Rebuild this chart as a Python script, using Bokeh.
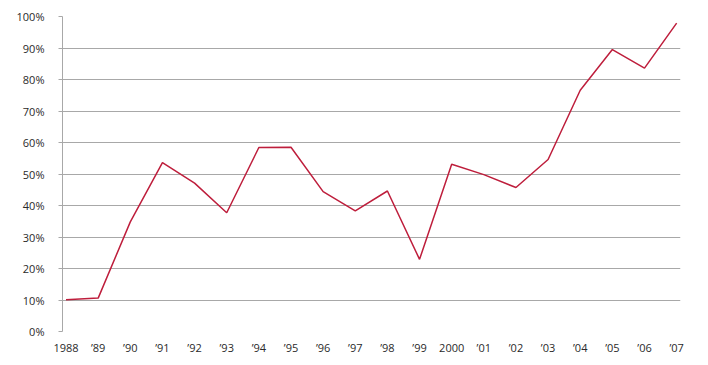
from bokeh.plotting import figure
from bokeh.models import Range1d, FixedTicker, PrintfTickFormatter
from bokeh.embed import file_html
from bokeh.resources import INLINE

years = list(range(1988, 2008))
values = [10.1, 10.6, 34.8, 53.6, 47.1, 37.7, 58.4, 58.5, 44.4, 38.3,
          44.6, 22.9, 53.1, 49.8, 45.7, 54.6, 76.6, 89.5, 83.6, 97.9]
x_labels = ["1988", "\u201989", "\u201990", "\u201991", "\u201992", "\u201993",
            "\u201994", "\u201995", "\u201996", "\u201997", "\u201998", "\u201999",
            "2000", "\u201901", "\u201902", "\u201903", "\u201904", "\u201905",
            "\u201906", "\u201907"]
y_ticks = list(range(0, 101, 10))

p = figure(width=700, height=357, output_backend="svg", toolbar_location=None,
           x_range=Range1d(1987.89, 2007.12), y_range=Range1d(0, 100),
           min_border_left=62, min_border_right=20, min_border_top=16,
           min_border_bottom=24)
p.outline_line_color = None
p.background_fill_color = "white"
p.border_fill_color = "white"

p.line(years, values, line_color="#be1e3c", line_width=1.5)

grid_col = "#a8a8a8"
p.xgrid.grid_line_color = None
p.ygrid.grid_line_color = grid_col
p.ygrid.grid_line_width = 1
p.ygrid.ticker = FixedTicker(ticks=y_ticks)

ya = p.yaxis[0]
ya.ticker = FixedTicker(ticks=y_ticks)
ya.formatter = PrintfTickFormatter(format="%d%%")
ya.axis_line_color = grid_col
ya.major_tick_line_color = grid_col
ya.major_tick_in = 0
ya.major_tick_out = 4
ya.minor_tick_line_color = None
ya.major_label_standoff = 14
ya.major_label_text_font = "Open Sans"
ya.major_label_text_font_size = "11px"
ya.major_label_text_color = "#2a2a2a"

xa = p.xaxis[0]
xa.ticker = FixedTicker(ticks=years)
xa.major_label_overrides = {y: l for y, l in zip(years, x_labels)}
xa.axis_line_color = None
xa.major_tick_line_color = None
xa.major_tick_in = 0
xa.major_tick_out = 0
xa.minor_tick_line_color = None
xa.major_label_standoff = 8
xa.major_label_text_font = "Open Sans"
xa.major_label_text_font_size = "11px"
xa.major_label_text_color = "#2a2a2a"

open("out.html", "w").write(file_html(p, INLINE))
